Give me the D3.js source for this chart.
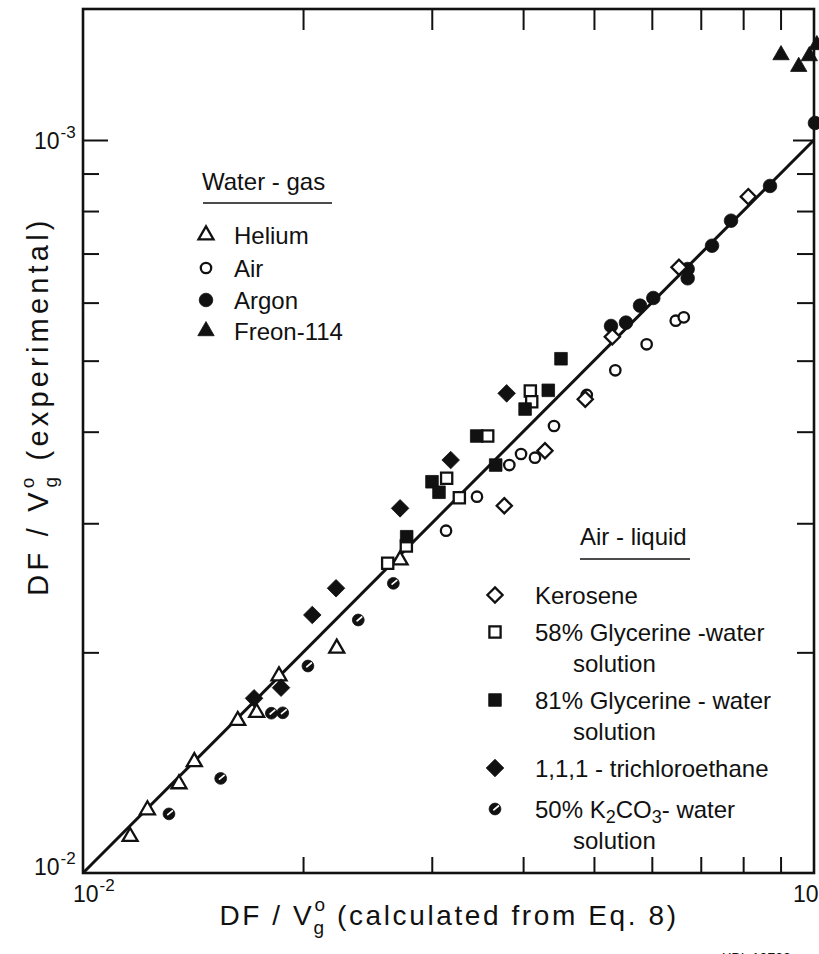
<!DOCTYPE html>
<html>
<head>
<meta charset="utf-8">
<script src="https://cdn.jsdelivr.net/npm/d3@7"></script>
<style>
  body { margin: 0; background: #fff; }
  svg { display: block; }
  text { font-family: "Liberation Sans", Arial, sans-serif; fill: #111; }
</style>
</head>
<body>
<svg id="chart" width="819" height="954"></svg>
<script>
// DF/Vg: calculated (x) vs experimental (y), one [x, y] pair per run

// Water - gas systems
const helium = [
  [0.01160, 0.01121], [0.01225, 0.01219], [0.01353, 0.01323], [0.01420, 0.01418],
  [0.01628, 0.01614], [0.01728, 0.01655], [0.01854, 0.01857], [0.02224, 0.02026],
  [0.02715, 0.02673]
];
const air = [
  [0.03138, 0.02931], [0.03459, 0.03261], [0.03830, 0.03602], [0.03974, 0.03729],
  [0.04152, 0.03686], [0.04409, 0.04072], [0.04888, 0.04489], [0.05348, 0.04851],
  [0.05903, 0.05264], [0.06469, 0.05669], [0.06635, 0.05729]
];
const argon = [
  [0.05276, 0.05576], [0.05531, 0.05634], [0.05781, 0.05943], [0.06028, 0.06088],
  [0.06717, 0.06668], [0.06717, 0.06476], [0.07253, 0.07174], [0.07700, 0.07761],
  [0.08706, 0.08656], [0.1003, 0.1055]
];
const freon114 = [
  [0.09013, 0.1306], [0.09530, 0.1259], [0.09854, 0.1302], [0.1009, 0.1348]
];

// Air - liquid systems
const kerosene = [
  [0.03770, 0.03170], [0.04285, 0.03768], [0.04865, 0.04429], [0.05298, 0.05390],
  [0.06536, 0.06704], [0.08130, 0.08370]
];
const glycerine58 = [
  [0.02611, 0.02646], [0.02769, 0.02793], [0.03144, 0.03455], [0.03272, 0.03251],
  [0.03578, 0.03946], [0.04092, 0.04546], [0.04110, 0.04395]
];
const glycerine81 = [
  [0.02772, 0.02876], [0.03002, 0.03418], [0.03069, 0.03307], [0.03456, 0.03946],
  [0.03669, 0.03602], [0.04025, 0.04295], [0.04330, 0.04555], [0.04507, 0.05030]
];
const trichloroethane = [
  [0.01714, 0.01731], [0.01866, 0.01790], [0.02059, 0.02249], [0.02219, 0.02446],
  [0.02715, 0.03144], [0.03184, 0.03659], [0.03798, 0.04512]
];
const k2co3 = [
  [0.01311, 0.01204], [0.01543, 0.01346], [0.01810, 0.01652], [0.01876, 0.01654],
  [0.02031, 0.01916], [0.02380, 0.02214], [0.02658, 0.02484]
];

// Line of equality, Eq. 8 prediction = experiment
const fitLine = [[0.01, 0.01], [0.1, 0.1]];

// Axis ticks and their labels
const minorTicks = [0.02, 0.03, 0.04, 0.05, 0.06, 0.07, 0.08, 0.09];
const xTickLabels = [{ v: 0.01, base: "10", exp: "-2" }, { v: 0.1, base: "10", exp: "-1" }];
const yTickLabels = [{ v: 0.01, base: "10", exp: "-2" }, { v: 0.1, base: "10", exp: "-3" }];

// ---------------------------------------------------------------------------
const svg = d3.select("#chart");
svg.append("rect").attr("width", 819).attr("height", 954).attr("fill", "#fff");

const x = d3.scaleLog().domain([0.01, 0.1]).range([83, 814]);
const y = d3.scaleLog().domain([0.01, 0.1]).range([873, 140]);
const frameTop = 9;

// Marker shapes, the size argument is the half width
const shapes = {
  triangle: { draw(ctx, r) { const h = r * Math.sqrt(3);
    ctx.moveTo(0, -2 * h / 3); ctx.lineTo(r, h / 3); ctx.lineTo(-r, h / 3); ctx.closePath(); } },
  square: { draw(ctx, r) { ctx.rect(-r, -r, 2 * r, 2 * r); } },
  diamond: { draw(ctx, r) { ctx.moveTo(0, -r); ctx.lineTo(r, 0); ctx.lineTo(0, r); ctx.lineTo(-r, 0); ctx.closePath(); } },
  circle: { draw(ctx, r) { ctx.moveTo(r, 0); ctx.arc(0, 0, r, 0, 2 * Math.PI); } }
};

const series = [
  { data: helium,          shape: "triangle", r: 7.5, filled: false },
  { data: air,             shape: "circle",   r: 5.2, filled: false },
  { data: argon,           shape: "circle",   r: 6.8, filled: true },
  { data: freon114,        shape: "triangle", r: 8.2, filled: true },
  { data: kerosene,        shape: "diamond",  r: 7.6, filled: false },
  { data: glycerine58,     shape: "square",   r: 5.6, filled: false },
  { data: glycerine81,     shape: "square",   r: 6.3, filled: true },
  { data: trichloroethane, shape: "diamond",  r: 8.8, filled: true },
  { data: k2co3,           shape: "circle",   r: 5.9, filled: true, streak: true }
];

function drawMarker(g, s) {
  g.append("path")
    .attr("d", d3.symbol().type(shapes[s.shape]).size(s.r)())
    .attr("fill", s.filled ? "#111" : "#fff")
    .attr("stroke", "#111")
    .attr("stroke-width", s.filled ? 0.8 : 2.3)
    .attr("stroke-linejoin", "miter");
  if (s.streak) {
    g.append("path")
      .attr("d", "M-1.2,0.8 L3.4,-3")
      .attr("stroke", "#fff").attr("stroke-width", 1.7).attr("stroke-linecap", "round");
  }
}

// Frame
svg.append("rect")
  .attr("x", x(0.01)).attr("y", frameTop)
  .attr("width", x(0.1) - x(0.01)).attr("height", y(0.01) - frameTop)
  .attr("fill", "none").attr("stroke", "#111").attr("stroke-width", 2.6);

// Inward ticks on all four sides
function styleAxis(g) {
  g.select(".domain").remove();
  g.selectAll(".tick line").attr("stroke", "#111").attr("stroke-width", 2);
}
svg.append("g").attr("transform", `translate(0,${y(0.01)})`)
  .call(d3.axisBottom(x).tickValues(minorTicks).tickSize(-16).tickFormat("")).call(styleAxis);
svg.append("g").attr("transform", `translate(0,${frameTop})`)
  .call(d3.axisTop(x).tickValues(minorTicks).tickSize(-21).tickFormat("")).call(styleAxis);
svg.append("g").attr("transform", `translate(${x(0.01)},0)`)
  .call(d3.axisLeft(y).tickValues(minorTicks).tickSize(-16).tickFormat("")).call(styleAxis);
svg.append("g").attr("transform", `translate(${x(0.01)},0)`)
  .call(d3.axisLeft(y).tickValues([0.1]).tickSize(-25).tickFormat("")).call(styleAxis);
svg.append("g").attr("transform", `translate(${x(0.1)},0)`)
  .call(d3.axisRight(y).tickValues(minorTicks).tickSize(-17).tickFormat("")).call(styleAxis);
svg.append("g").attr("transform", `translate(${x(0.1)},0)`)
  .call(d3.axisRight(y).tickValues([0.1]).tickSize(-21).tickFormat("")).call(styleAxis);

// Power-of-ten tick labels
function powerLabel(g, lbl, px, py) {
  const t = g.append("text").attr("x", px).attr("y", py).attr("font-size", 23);
  t.append("tspan").text(lbl.base);
  t.append("tspan").attr("font-size", 17).attr("dx", 1).attr("dy", -11).text(lbl.exp);
}
const xLabelShift = [-10, -21];
xTickLabels.forEach((l, i) => powerLabel(svg, l, x(l.v) + xLabelShift[i], y(0.01) + 29));
const yLabelShift = [2, 9];
yTickLabels.forEach((l, i) => powerLabel(svg, l, 34, y(l.v) + yLabelShift[i]));

// Equality line
svg.append("path")
  .attr("d", d3.line().x(d => x(d[0])).y(d => y(d[1]))(fitLine))
  .attr("fill", "none").attr("stroke", "#111").attr("stroke-width", 3);

// Data markers
series.forEach(s => {
  svg.append("g").selectAll("g").data(s.data).join("g")
    .attr("transform", d => `translate(${x(d[0])},${y(d[1])})`)
    .each(function () { drawMarker(d3.select(this), s); });
});

// Legends
function legendBlock(title, tx, ty, lineX0, lineX1, lineY, entries, mx, textX) {
  svg.append("text").attr("x", tx).attr("y", ty).attr("font-size", 24).text(title);
  svg.append("line").attr("x1", lineX0).attr("x2", lineX1).attr("y1", lineY).attr("y2", lineY)
    .attr("stroke", "#111").attr("stroke-width", 1.6);
  entries.forEach(e => {
    const g = svg.append("g").attr("transform", `translate(${mx},${e.y})`);
    drawMarker(g, e.s);
    e.lines.forEach((ln, k) => {
      const t = svg.append("text").attr("x", k === 0 ? textX : textX + 38)
        .attr("y", e.y + 8.5 + k * 31).attr("font-size", 24);
      ln.forEach(part => {
        const sp = t.append("tspan").text(part.t);
        if (part.sub) sp.attr("font-size", 18).attr("dy", 5);
        if (part.back) sp.attr("dy", -5);
      });
    });
  });
}

legendBlock("Water - gas", 202, 190, 203, 332, 203, [
  { s: series[0], y: 235, lines: [[{ t: "Helium" }]] },
  { s: series[1], y: 268, lines: [[{ t: "Air" }]] },
  { s: series[2], y: 300, lines: [[{ t: "Argon" }]] },
  { s: series[3], y: 331, lines: [[{ t: "Freon-114" }]] }
], 206, 234);

legendBlock("Air - liquid", 580, 545, 580, 690, 559, [
  { s: series[4], y: 595, lines: [[{ t: "Kerosene" }]] },
  { s: series[5], y: 632, lines: [[{ t: "58% Glycerine -water" }], [{ t: "solution" }]] },
  { s: series[6], y: 700, lines: [[{ t: "81%  Glycerine - water" }], [{ t: "solution" }]] },
  { s: series[7], y: 768, lines: [[{ t: "1,1,1 - trichloroethane" }]] },
  { s: series[8], y: 809, lines: [[{ t: "50%  K" }, { t: "2", sub: true }, { t: "CO" , back: true }, { t: "3", sub: true }, { t: "- water", back: true }], [{ t: "solution" }]] }
], 495, 535);

// Axis titles
function titleText(t, tail, gap) {
  t.append("tspan").text("DF / V");
  t.append("tspan").attr("font-size", 19).attr("dy", -14).text("o");
  t.append("tspan").attr("font-size", 19).attr("dx", -14).attr("dy", 23).text("g");
  t.append("tspan").attr("dy", -9).text(gap + tail);
}
const xt = svg.append("text").attr("x", 449).attr("y", 925).attr("font-size", 28)
  .attr("text-anchor", "middle").attr("letter-spacing", 2.6);
titleText(xt, "(calculated from Eq. 8)", "  ");

const yt = svg.append("text").attr("transform", "translate(48,406) rotate(-90)")
  .attr("font-size", 29).attr("text-anchor", "middle").attr("letter-spacing", 4.2);
titleText(yt, "(experimental)", "   ");

// Drawing number
svg.append("text").attr("x", 722).attr("y", 963).attr("font-size", 14).text("XBL 10722");
</script>
</body>
</html>
